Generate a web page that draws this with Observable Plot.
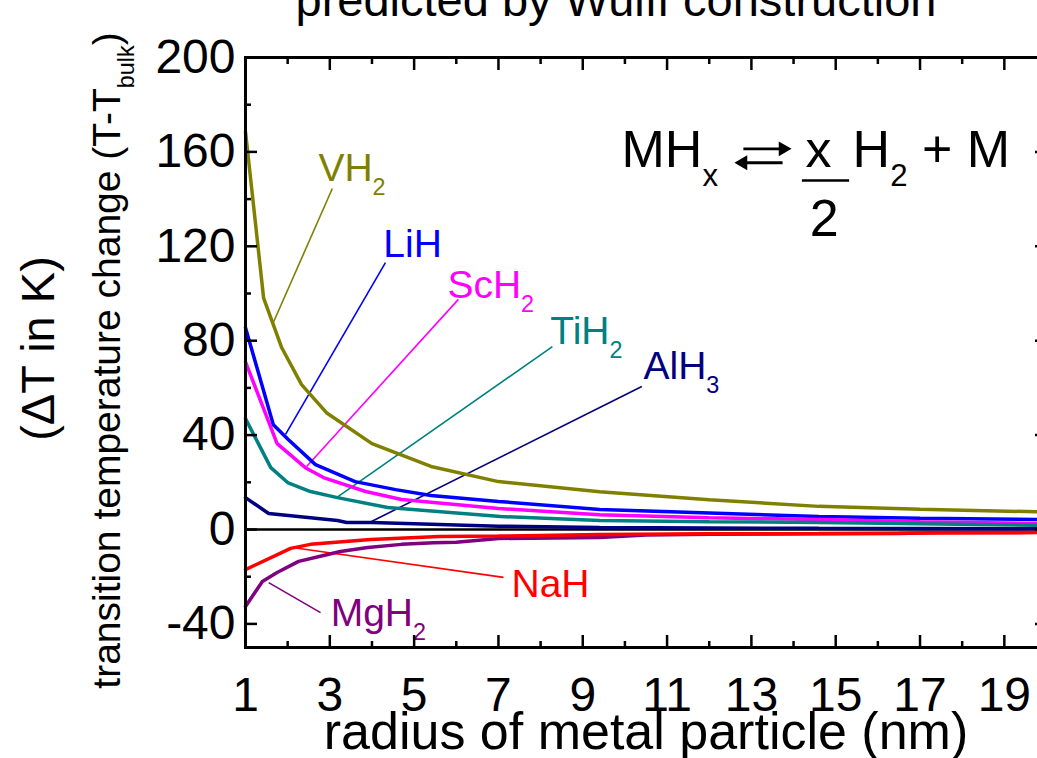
<!DOCTYPE html>
<html><head><meta charset="utf-8">
<script src="https://cdn.jsdelivr.net/npm/d3@7"></script>
<script src="https://cdn.jsdelivr.net/npm/@observablehq/plot@0.6"></script>
<style>
body{margin:0;background:#fff;}
#wrap{width:1037px;height:758px;overflow:hidden;position:relative;}
#wrap svg{max-width:none !important;}
</style></head><body><div id="wrap"></div>
<script>
// ---------- data ----------
const seriesNames  = ["VH2", "LiH", "ScH2", "TiH2", "AlH3", "MgH2", "NaH"];
const seriesColors = ["#808000", "#0000ff", "#ff00ff", "#008080", "#000080", "#800080", "#ff0000"];

const radiusVH2 = [1, 1.43, 1.86, 2.33, 2.92, 4.0, 5.4, 7.0, 9.4, 12, 14.6, 17, 20];
const dTVH2     = [168.5, 98, 77, 61.4, 49.5, 36.4, 26.7, 20.3, 16, 12.6, 9.8, 8.6, 7.4];
const radiusLiH = [1, 1.66, 2.02, 2.66, 3.6, 4.56, 5.4, 7, 9.4, 12, 14.6, 17, 20];
const dTLiH     = [85.5, 44.4, 38, 27.5, 20.3, 16.9, 14.4, 11.9, 8.5, 7, 5.5, 4.8, 4.2];
const radiusScH2 = [1, 1.75, 2.42, 2.85, 3.85, 4.7, 7, 9.4, 12, 14.6, 17, 20];
const dTScH2     = [71, 36.4, 26.2, 22, 16.1, 12.7, 8.9, 6.3, 5, 4.2, 3.3, 2.5];
const radiusTiH2 = [1, 1.6, 2.0, 2.54, 3.18, 4.37, 7.05, 9.4, 12, 14.6, 17, 20];
const dTTiH2     = [47, 26.2, 19.9, 16.1, 13.5, 9.3, 5.5, 3.8, 3.3, 3.0, 2.4, 1.8];
const radiusAlH3 = [1, 1.55, 3.18, 3.4, 4, 7, 9.4, 14.6, 20];
const dTAlH3     = [13.5, 6.8, 3.8, 3.0, 3.0, 1.4, 0.8, 0.5, 0.3];
const radiusMgH2 = [1, 1.4, 1.75, 2.26, 2.85, 3.25, 3.9, 4.7, 5.46, 6.0, 7, 9.4, 10.5, 12, 14.6, 16.5, 17.5, 20];
const dTMgH2     = [-32.6, -22, -18.2, -13.5, -11, -9.3, -7.6, -6.3, -5.6, -5.4, -3.8, -3.4, -2.3, -2.0, -1.8, -1.7, -1.3, -1.2];
const radiusNaH = [1, 2.07, 2.54, 3.97, 5.6, 7, 9.4, 12, 14.6, 17, 20];
const dTNaH     = [-17, -8, -6.3, -4.2, -3.0, -2.8, -2.1, -1.8, -1.7, -1.5, -1.3];

const xMajorTicks = [1, 3, 5, 7, 9, 11, 13, 15, 17, 19];
const xMinorTicks = [2, 4, 6, 8, 10, 12, 14, 16, 18, 20];
const yMajorTicks = [-40, 0, 40, 80, 120, 160, 200];
const yMinorTicks = [-20, 20, 60, 100, 140, 180];

// series labels (text, anchor point in data units) and leader lines
const labelSeries = ["VH2", "LiH", "ScH2", "TiH2", "AlH3", "NaH", "MgH2"];
const labelTexts  = ["VH_{2}", "LiH", "ScH_{2}", "TiH_{2}", "AlH_{3}", "NaH", "MgH_{2}"];
const labelX      = [2.73, 4.27, 5.79, 8.23, 10.44, 7.31, 3.02];
const labelY      = [147.5, 115.3, 98.3, 78.4, 63.6, -28.8, -41.1];
const leaderX1 = [3.06, 4.32, 6.05, 8.28, 10.4, 2.11, 1.55];
const leaderY1 = [144.5, 113.1, 97.5, 77.5, 60.6, -7.6, -22.5];
const leaderX2 = [1.66, 1.95, 2.45, 3.16, 3.99, 7.12, 2.78];
const leaderY2 = [87.7, 40.3, 26.7, 13.5, 3.4, -20.3, -35.2];

// reaction equation pieces
const eqTexts  = ["MH_{x}", "x", "2", "H_{2} + M"];
const eqX      = [9.92, 14.59, 14.73, 15.40];
const eqY      = [153.4, 153.4, 124.2, 153.4];
const eqAnchor = ["start", "middle", "middle", "start"];
const fracBar  = {x1: 14.21, x2: 15.33, y: 147.9};
const arrowX1 = [12.81, 12.74], arrowX2 = [13.80, 13.74], arrowY = [161.3, 155.4];
const headX = [13.75, 12.80], headRotate = [90, -90];

const titleText = "predicted by Wulff construction";
const xLabel = "radius of metal particle (nm)";
const yLabel1 = "(\u0394T in K)";
const yLabel2 = "transition temperature change (T-T_{bulk})";

// ---------- build tables ----------
const seriesX = {VH2: radiusVH2, LiH: radiusLiH, ScH2: radiusScH2, TiH2: radiusTiH2, AlH3: radiusAlH3, MgH2: radiusMgH2, NaH: radiusNaH};
const seriesY = {VH2: dTVH2, LiH: dTLiH, ScH2: dTScH2, TiH2: dTTiH2, AlH3: dTAlH3, MgH2: dTMgH2, NaH: dTNaH};
const rows = seriesNames.flatMap(s => seriesX[s].map((r, i) => ({series: s, radius: r, dT: seriesY[s][i]})));
const labels = labelSeries.map((s, i) => ({series: s, text: labelTexts[i], x: labelX[i], y: labelY[i]}));
const leaders = labelSeries.map((s, i) => ({series: s, x1: leaderX1[i], y1: leaderY1[i], x2: leaderX2[i], y2: leaderY2[i]}));
const eq = eqTexts.map((t, i) => ({text: t, x: eqX[i], y: eqY[i], anchor: eqAnchor[i]}));
const arrows = arrowY.map((y, i) => ({x1: arrowX1[i], x2: arrowX2[i], y, hx: headX[i], rot: headRotate[i]}));

const FONT = '"Liberation Sans", Arial, Helvetica, sans-serif';

const chart = Plot.plot({
  width: 1060, height: 758,
  marginLeft: 245, marginRight: 14, marginTop: 57, marginBottom: 111,
  style: {fontFamily: FONT, background: "white", color: "black", overflow: "visible", maxWidth: "none"},
  x: {domain: [1, 20]},
  y: {domain: [-50, 200]},
  color: {domain: seriesNames, range: seriesColors},
  marks: [
    Plot.ruleY([0], {stroke: "black", strokeWidth: 2.5}),
    Plot.link(leaders, {x1: "x1", y1: "y1", x2: "x2", y2: "y2", stroke: "series", strokeWidth: 1.6}),
    Plot.line(rows, {x: "radius", y: "dT", z: "series", stroke: "series", strokeWidth: 3.5, strokeLinejoin: "miter"}),
    Plot.text(labels, {x: "x", y: "y", text: "text", fill: "series", textAnchor: "start", lineAnchor: "bottom", fontSize: 39}),
    // equation
    Plot.text(eq.filter(d => d.anchor === "start"), {x: "x", y: "y", text: "text", textAnchor: "start", lineAnchor: "bottom", fontSize: 52, fill: "black"}),
    Plot.text(eq.filter(d => d.anchor === "middle"), {x: "x", y: "y", text: "text", textAnchor: "middle", lineAnchor: "bottom", fontSize: 52, fill: "black"}),
    Plot.ruleY([fracBar], {y: "y", x1: "x1", x2: "x2", stroke: "black", strokeWidth: 2.5}),
    Plot.link(arrows, {x1: "x1", x2: "x2", y1: "y", y2: "y", stroke: "black", strokeWidth: 2.8}),
    Plot.dot(arrows, {x: "hx", y: "y", symbol: "triangle", rotate: "rot", r: 5.5, fill: "black", stroke: "none"}),
    // axes
    Plot.axisX(xMajorTicks, {anchor: "bottom", tickSize: -12, tickPadding: 41, strokeWidth: 2.5, fontSize: 48, label: null, tickFormat: d => String(d)}),
    Plot.axisX(xMinorTicks, {anchor: "bottom", tickSize: -6, strokeWidth: 2.5, fill: "none", label: null}),
    Plot.axisX(xMajorTicks, {anchor: "top", tickSize: -12, strokeWidth: 2.5, fill: "none", label: null}),
    Plot.axisX(xMinorTicks, {anchor: "top", tickSize: -6, strokeWidth: 2.5, fill: "none", label: null}),
    Plot.axisY(yMajorTicks, {anchor: "left", tickSize: -12, tickPadding: 22, strokeWidth: 2.5, fontSize: 48, label: null, tickFormat: d => String(d)}),
    Plot.axisY(yMinorTicks, {anchor: "left", tickSize: -6, strokeWidth: 2.5, fill: "none", label: null}),
    Plot.axisY(yMajorTicks, {anchor: "right", tickSize: -12, strokeWidth: 2.5, fill: "none", label: null}),
    Plot.axisY(yMinorTicks, {anchor: "right", tickSize: -6, strokeWidth: 2.5, fill: "none", label: null}),
    Plot.frame({stroke: "black", strokeWidth: 3}),
    // titles
    Plot.text([titleText], {frameAnchor: "top", dx: -30, dy: -42, lineAnchor: "bottom", fontSize: 47, fill: "black"}),
    Plot.text([xLabel], {frameAnchor: "bottom", dy: 101, lineAnchor: "bottom", fontSize: 52, fill: "black"}),
    Plot.text([yLabel1], {frameAnchor: "left", dx: -207, dy: -4, rotate: -90, lineAnchor: "middle", textAnchor: "middle", fontSize: 47, fill: "black"}),
    Plot.text([yLabel2], {frameAnchor: "left", dx: -138, dy: 8, rotate: -90, lineAnchor: "middle", textAnchor: "middle", fontSize: 39, fill: "black"})
  ]
});

// convert "_{...}" markup into subscript tspans
function applySubscripts(svg) {
  const ns = "http://www.w3.org/2000/svg";
  svg.querySelectorAll("text").forEach(t => {
    const s = t.textContent;
    if (!s.includes("_{")) return;
    const holder = t.closest("[font-size]");
    const fs = parseFloat(t.getAttribute("font-size") || (holder ? holder.getAttribute("font-size") : 16)) || 16;
    const shift = fs * 0.36;
    const parts = s.split(/_\{([^}]*)\}/);
    t.textContent = "";
    let shifted = false;
    parts.forEach((p, i) => {
      if (i % 2 === 1) {
        const ts = document.createElementNS(ns, "tspan");
        ts.textContent = p;
        ts.setAttribute("font-size", (fs * 0.6).toFixed(1));
        ts.setAttribute("dy", shift.toFixed(1));
        shifted = true;
        t.appendChild(ts);
      } else if (p) {
        const ts = document.createElementNS(ns, "tspan");
        ts.textContent = p;
        if (shifted) { ts.setAttribute("dy", (-shift).toFixed(1)); shifted = false; }
        t.appendChild(ts);
      }
    });
  });
}
applySubscripts(chart);
chart.style.maxWidth = "none";
document.getElementById("wrap").appendChild(chart);
</script>
</body></html>
